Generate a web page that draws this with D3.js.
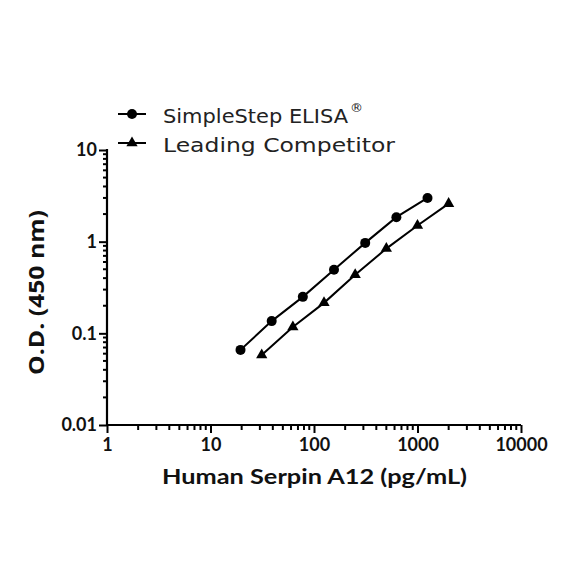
<!DOCTYPE html>
<html><head><meta charset="utf-8">
<script src="https://cdn.jsdelivr.net/npm/d3@7"></script>
<style>body{margin:0;background:#fff}</style>
</head><body>
<svg id="c" width="584" height="584"></svg>
<script>
const seriesNames = ["SimpleStep ELISA", "Leading Competitor"];
const simpleX = [19.5, 39, 78, 156, 312.5, 625, 1250];
const simpleY = [0.066, 0.136, 0.25, 0.495, 0.97, 1.85, 3.0];
const compX = [31.25, 62.5, 125, 250, 500, 1000, 2000];
const compY = [0.058, 0.117, 0.215, 0.435, 0.84, 1.5, 2.6];
const xTicks = [1, 10, 100, 1000, 10000];
const yTicks = [0.01, 0.1, 1, 10];
const yTickLabels = ["0.01", "0.1", "1", "10"];
const xTitle = "Human Serpin A12 (pg/mL)";
const yTitle = "O.D. (450 nm)";

const svg = d3.select("#c");
const x = d3.scaleLog().domain([1, 10000]).range([107, 521]);
const y = d3.scaleLog().domain([0.01, 10]).range([425, 150]);
const tickFont = "Lato, 'DejaVu Sans', sans-serif";

function minors(lo, hi) {
  const out = [];
  for (let d = lo; d < hi; d *= 10) for (let k = 2; k <= 9; k++) out.push(d * k);
  return out;
}
const gx = svg.append("g").attr("transform", "translate(0,425)");
gx.selectAll("line.minor").data(minors(1, 10000)).join("line")
  .attr("x1", d => x(d)).attr("x2", d => x(d)).attr("y1", 0).attr("y2", 5)
  .attr("stroke", "#000").attr("stroke-width", 2);
gx.call(d3.axisBottom(x).tickValues(xTicks).tickFormat(d3.format("d")).tickSize(8).tickPadding(5));
gx.select(".domain").attr("stroke-width", 2.2).attr("d", "M106,0H521");
gx.selectAll(".tick line").attr("stroke-width", 2);
gx.selectAll(".tick text").attr("font-family", tickFont).attr("font-weight", "bold").attr("font-size", 18).attr("fill", "#111");

const gy = svg.append("g").attr("transform", "translate(107,0)");
gy.selectAll("line.minor").data(minors(0.01, 10)).join("line")
  .attr("y1", d => y(d)).attr("y2", d => y(d)).attr("x1", 0).attr("x2", -4)
  .attr("stroke", "#000").attr("stroke-width", 2);
gy.call(d3.axisLeft(y).tickValues(yTicks).tickFormat((d, i) => yTickLabels[i]).tickSize(8).tickPadding(2));
gy.select(".domain").attr("stroke-width", 2.2).attr("d", "M0,149V426");
gy.selectAll(".tick line").attr("stroke-width", 2);
gy.selectAll(".tick text").attr("font-family", tickFont).attr("font-weight", "bold").attr("font-size", 18).attr("fill", "#111");

// titles
svg.append("text").attr("x", 162).attr("y", 484)
  .attr("font-family", tickFont).attr("font-weight", "bold").attr("font-size", 20).attr("fill", "#111")
  .attr("textLength", 305).attr("lengthAdjust", "spacingAndGlyphs").text(xTitle);
svg.append("text").attr("transform", "translate(44,375) rotate(-90)")
  .attr("font-family", "'Open Sans', sans-serif").attr("font-weight", "bold").attr("font-size", 21).attr("fill", "#111")
  .attr("textLength", 165).attr("lengthAdjust", "spacingAndGlyphs").text(yTitle);

// series
const line = d3.line().x(d => x(d[0])).y(d => y(d[1]));
const s1 = simpleX.map((v, i) => [v, simpleY[i]]);
const s2 = compX.map((v, i) => [v, compY[i]]);
svg.append("path").attr("d", line(s1)).attr("fill", "none").attr("stroke", "#000").attr("stroke-width", 2);
svg.append("path").attr("d", line(s2)).attr("fill", "none").attr("stroke", "#000").attr("stroke-width", 2);
svg.selectAll("circle.p").data(s1).join("circle")
  .attr("cx", d => x(d[0])).attr("cy", d => y(d[1])).attr("r", 5).attr("fill", "#000");
const tri = d3.symbol().type(d3.symbolTriangle).size(55);
svg.selectAll("path.t").data(s2).join("path")
  .attr("transform", d => `translate(${x(d[0])},${y(d[1])})`).attr("d", tri()).attr("fill", "#000");

// legend
const legFont = "'DejaVu Sans', sans-serif";
const lg = svg.append("g");
[[114, 0], [143, 1]].forEach(([ly, i]) => {
  lg.append("line").attr("x1", 118).attr("x2", 146).attr("y1", ly).attr("y2", ly).attr("stroke", "#000").attr("stroke-width", 2);
  if (i === 0) lg.append("circle").attr("cx", 132).attr("cy", ly).attr("r", 5).attr("fill", "#000");
  else lg.append("path").attr("transform", `translate(132,${ly})`).attr("d", tri()).attr("fill", "#000");
});
lg.append("text").attr("x", 163).attr("y", 123).attr("font-family", legFont).attr("font-size", 20).attr("fill", "#222")
  .attr("textLength", 185).attr("lengthAdjust", "spacingAndGlyphs").text(seriesNames[0]);
lg.append("text").attr("x", 350).attr("y", 112).attr("font-family", legFont).attr("font-size", 13).attr("fill", "#222").text("®");
lg.append("text").attr("x", 163).attr("y", 152).attr("font-family", legFont).attr("font-size", 20).attr("fill", "#222")
  .attr("textLength", 232).attr("lengthAdjust", "spacingAndGlyphs").text(seriesNames[1]);
</script>
</body></html>
